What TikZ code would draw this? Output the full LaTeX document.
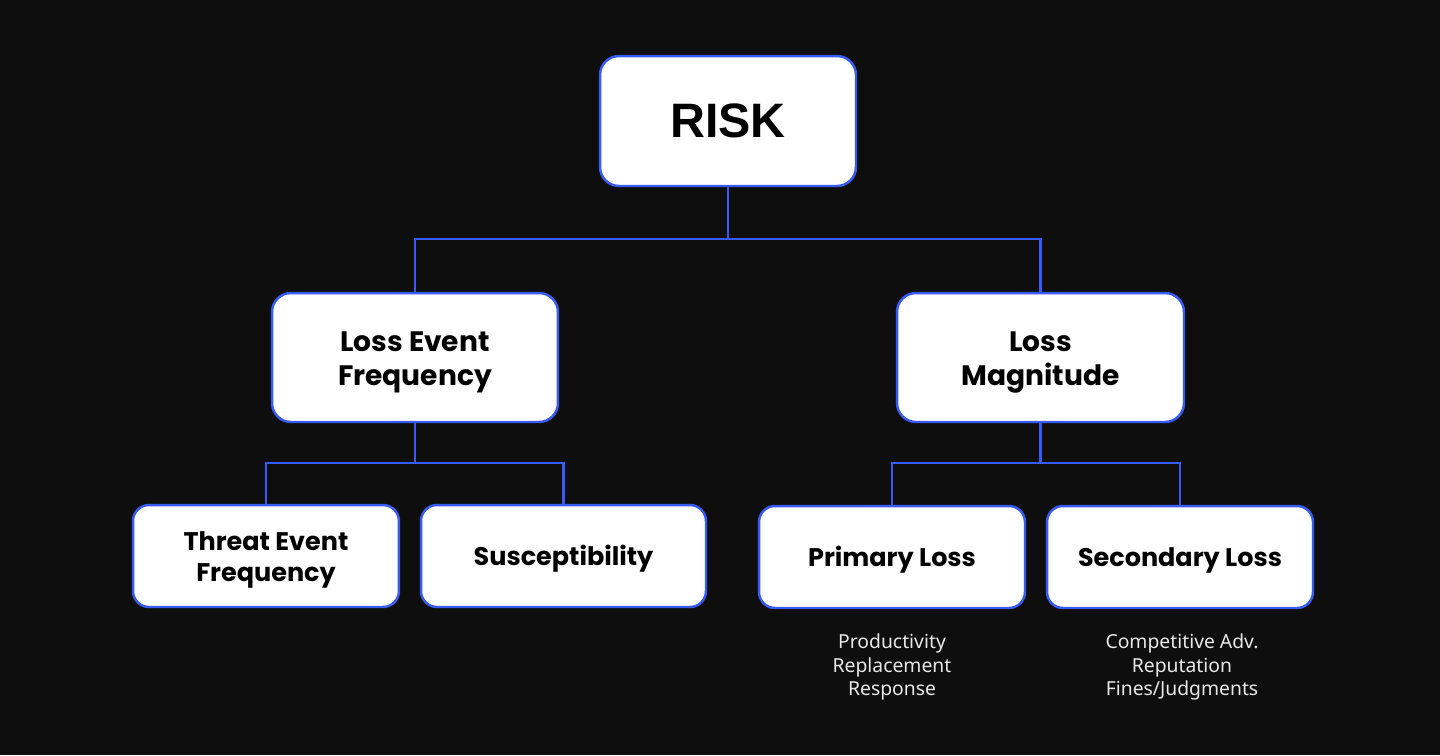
\documentclass[tikz,border=0pt]{standalone}
\usepackage{fontspec}
\setmainfont{Poppins}
\newfontfamily\riskfont{Liberation Sans}
\newfontfamily\listfont{Noto Sans}
\definecolor{bgdark}{RGB}{14,14,14}
\definecolor{fairblue}{RGB}{56,90,245}
\definecolor{listgray}{RGB}{232,232,232}
\tikzset{
  box/.style={draw=fairblue, line width=1.4pt, fill=white, rounded corners=0.38cm,
    inner sep=0pt, align=center, font=\bfseries, text=black},
  bigbox/.style={box, minimum height=2.58cm, font=\fontsize{16}{19.5}\selectfont\bfseries,
    text height=36.6pt},
  smallbox/.style={box, minimum height=2.04cm, rounded corners=0.32cm,
    font=\fontsize{14.5}{17.6}\selectfont\bfseries, text height=15pt},
  link/.style={draw=fairblue, line width=1.2pt},
  sublist/.style={align=center, text=listgray, inner sep=0pt,
    font=\listfont\fontsize{11}{13.4}\selectfont}
}
\begin{document}
\begin{tikzpicture}[x=0.02cm, y=-0.02cm]
    \fill[bgdark] (0,0) rectangle (1440,755);
    \useasboundingbox (0,0) rectangle (1440,755);
    % top
    \node[box, minimum width=5.12cm, minimum height=2.6cm,
      font=\riskfont\fontsize{27.5}{32}\selectfont\bfseries] (risk) at (728,121) {RISK};
    % second level
    \node[bigbox, minimum width=5.72cm] (lef) at (415,357.5) {Loss Event\\Frequency};
    \node[bigbox, minimum width=5.74cm] (lm) at (1040.5,357.5) {Loss\\Magnitude};
    % third level
    \node[smallbox, minimum width=5.32cm, text height=33pt] (tef) at (266,556) {Threat Event\\Frequency};
    \node[smallbox, minimum width=5.7cm] (susc) at (563.5,556) {Susceptibility};
    \node[smallbox, minimum width=5.32cm] (ploss) at (892,557) {Primary Loss};
    \node[smallbox, minimum width=5.32cm] (sloss) at (1180,557) {Secondary Loss};
    % loss forms
    \node[sublist] (pforms) at (892,667) {Productivity\\Replacement\\Response};
    \node[sublist] (sforms) at (1182,667) {Competitive Adv.\\Reputation\\Fines/Judgments};
    % connectors
    \coordinate (rj) at (728,239);
    \coordinate (lj) at (415,463);
    \coordinate (mj) at (1040.5,463);
    \draw[link] (risk.south) -- (rj);
    \draw[link] (lef.north) |- (rj) -| (lm.north);
    \draw[link] (lef.south) -- (lj);
    \draw[link] (tef.north) |- (lj) -| (susc.north);
    \draw[link] (lm.south) -- (mj);
    \draw[link] (ploss.north) |- (mj) -| (sloss.north);
\end{tikzpicture}
\end{document}
